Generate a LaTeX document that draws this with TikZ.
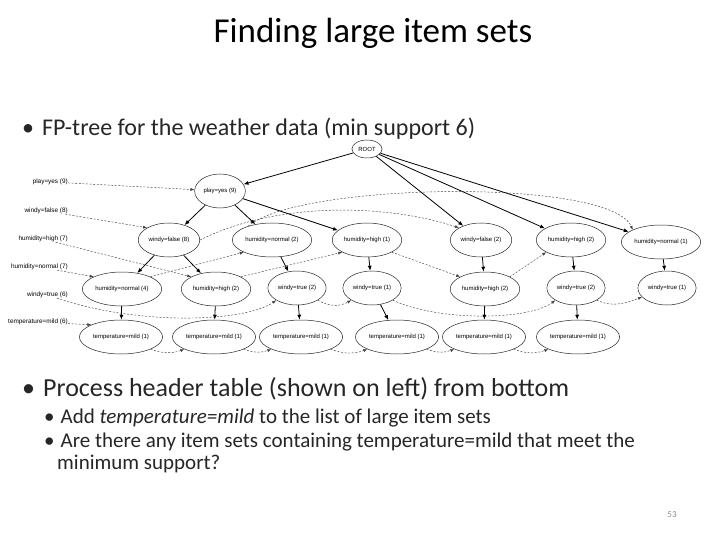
\documentclass[tikz,border=0pt]{standalone}
\usepackage{fontspec}
\setmainfont{Carlito}
\newfontfamily\treefont{Liberation Sans}
\usetikzlibrary{shapes.geometric,arrows.meta}

\def\treesize{\fontsize{6}{7}\selectfont}
\colorlet{link edge}{black!75}
\colorlet{slide text}{black!85}
\tikzset{
  vertex/.style={ellipse, draw=black!85, line width=0.5pt, font=\treefont\treesize,
    inner xsep=1.5pt, inner ysep=0pt, minimum height=34pt},
  header/.style={anchor=east, font=\treefont\fontsize{6.4}{7}\selectfont, inner sep=0pt},
  slideline/.style={anchor=base west, inner sep=0pt, text=slide text}
  }
\tikzstyle{treeedge} = [draw, line width=0.8pt, -{Latex[length=5pt,width=4pt]}]
\tikzstyle{link} = [draw, link edge, line width=0.45pt, dash pattern=on 2pt off 1.6pt,
  -{Latex[length=4pt,width=3pt]}]

\begin{document}
\begin{tikzpicture}[x=1pt,y=-1pt]
   \useasboundingbox (0,0) rectangle (720,540);

   \node[anchor=base, inner sep=0pt, font=\fontsize{35}{40}\selectfont] (title) at (373,43) {Finding large item sets};
   \node[slideline, font=\fontsize{24}{28}\selectfont] (intro) at (22,136) {•\hspace{8pt}FP-tree for the weather data (min support 6)};

   % header table
   \node[header] (hplay) at (68,182) {play=yes (9)};
   \node[header] (hwf) at (68,211) {windy=false (8)};
   \node[header] (hhh) at (68,239) {humidity=high (7)};
   \node[header] (hhn) at (68,267) {humidity=normal (7)};
   \node[header] (hwt) at (68,295) {windy=true (6)};
   \node[header] (htm) at (68,322) {temperature=mild (6)};

   % the tree
   \node[vertex, minimum height=18pt, inner xsep=2pt] (root) at (367,149) {ROOT};
   \node[vertex] (play) at (220,191) {play=yes (9)};

   \node[vertex] (wfA) at (169,240) {windy=false (8)};
   \node[vertex] (hnA) at (272,240) {humidity=normal (2)};
   \node[vertex] (hhA) at (367,240) {humidity=high (1)};
   \node[vertex] (wfB) at (481,240) {windy=false (2)};
   \node[vertex] (hhB) at (571,240) {humidity=high (2)};
   \node[vertex] (hnB) at (661,242) {humidity=normal (1)};

   \node[vertex] (hnC) at (122,289) {humidity=normal (4)};
   \node[vertex] (hhC) at (216,289) {humidity=high (2)};
   \node[vertex] (wtA) at (297,288) {windy=true (2)};
   \node[vertex] (wtB) at (372,288) {windy=true (1)};
   \node[vertex] (hhD) at (485,289) {humidity=high (2)};
   \node[vertex] (wtC) at (576,288) {windy=true (2)};
   \node[vertex] (wtD) at (667,288) {windy=true (1)};

   \node[vertex] (tmA) at (121,337) {temperature=mild (1)};
   \node[vertex] (tmB) at (214,337) {temperature=mild (1)};
   \node[vertex] (tmC) at (301,337) {temperature=mild (1)};
   \node[vertex] (tmD) at (397,337) {temperature=mild (1)};
   \node[vertex] (tmE) at (484,337) {temperature=mild (1)};
   \node[vertex] (tmF) at (578,337) {temperature=mild (1)};

   \path[treeedge] (root) -- (play);
   \path[treeedge] (root) -- (wfB);
   \path[treeedge] (root) -- (hhB);
   \path[treeedge] (root) -- (hnB);
   \path[treeedge] (play) -- (wfA);
   \path[treeedge] (play) -- (hnA);
   \path[treeedge] (play) -- (hhA);
   \path[treeedge] (wfA) -- (hnC);
   \path[treeedge] (wfA) -- (hhC);
   \path[treeedge] (hnA) -- (wtA);
   \path[treeedge] (hhA) -- (wtB);
   \path[treeedge] (wfB) -- (hhD);
   \path[treeedge] (hhB) -- (wtC);
   \path[treeedge] (hnB) -- (wtD);
   \path[treeedge] (hnC) -- (tmA);
   \path[treeedge] (hhC) -- (tmB);
   \path[treeedge] (wtA) -- (tmC);
   \path[treeedge] (wtB) -- (tmD);
   \path[treeedge] (hhD) -- (tmE);
   \path[treeedge] (wtC) -- (tmF);

   % node links
   \path[link] (hplay) -- (play);
   \path[link] (hwf) -- (wfA.north west);
   \path[link] (wfA.east) .. controls (280,200) and (390,205) .. (wfB.north west);
   \path[link] (hhh) -- (hhC.north west);
   \path[link] (hhC.north east) -- (hhA.south west);
   \path[link] (hhA.south east) -- (hhD.north west);
   \path[link] (hhD.north east) -- (hhB.south west);
   \path[link] (hhn) -- (hnC.north west);
   \path[link] (hnC.north east) -- (hnA.south west);
   \path[link] (hnA.150) .. controls (300,182) and (610,178) .. (hnB.north west);
   \path[link] (hwt) .. controls (140,326) and (245,322) .. (wtA.south west);
   \path[link] (wtA.south east) to[out=-30,in=-150] (wtB.south west);
   \path[link] (wtB.south east) .. controls (440,322) and (530,320) .. (wtC.south west);
   \path[link] (wtC.south east) to[out=-25,in=-160] (wtD.200);
   \path[link] (htm) -- (tmA.north west);
   \foreach \from/\to in {tmA/tmB, tmB/tmC, tmC/tmD, tmD/tmE, tmE/tmF}
      \path[link] (\from.south east) to[out=-20,in=-160] (\to.south west);

   \node[slideline, font=\fontsize{26}{30}\selectfont] (process) at (22,396) {•\hspace{8pt}Process header table (shown on left) from bottom};
   \node[slideline, font=\fontsize{21}{25}\selectfont] (addmild) at (44,423) {•\hspace{6pt}Add \textit{temperature=mild} to the list of large item sets};
   \node[slideline, font=\fontsize{21}{25}\selectfont] (question) at (44,447) {•\hspace{6pt}Are there any item sets containing temperature=mild that meet the};
   \node[slideline, font=\fontsize{21}{25}\selectfont] (questiontail) at (57,469) {minimum support?};
   \node[anchor=base, inner sep=0pt, text=black!45, font=\fontsize{9}{11}\selectfont] (pagenum) at (672,517) {53};
\end{tikzpicture}
\end{document}
